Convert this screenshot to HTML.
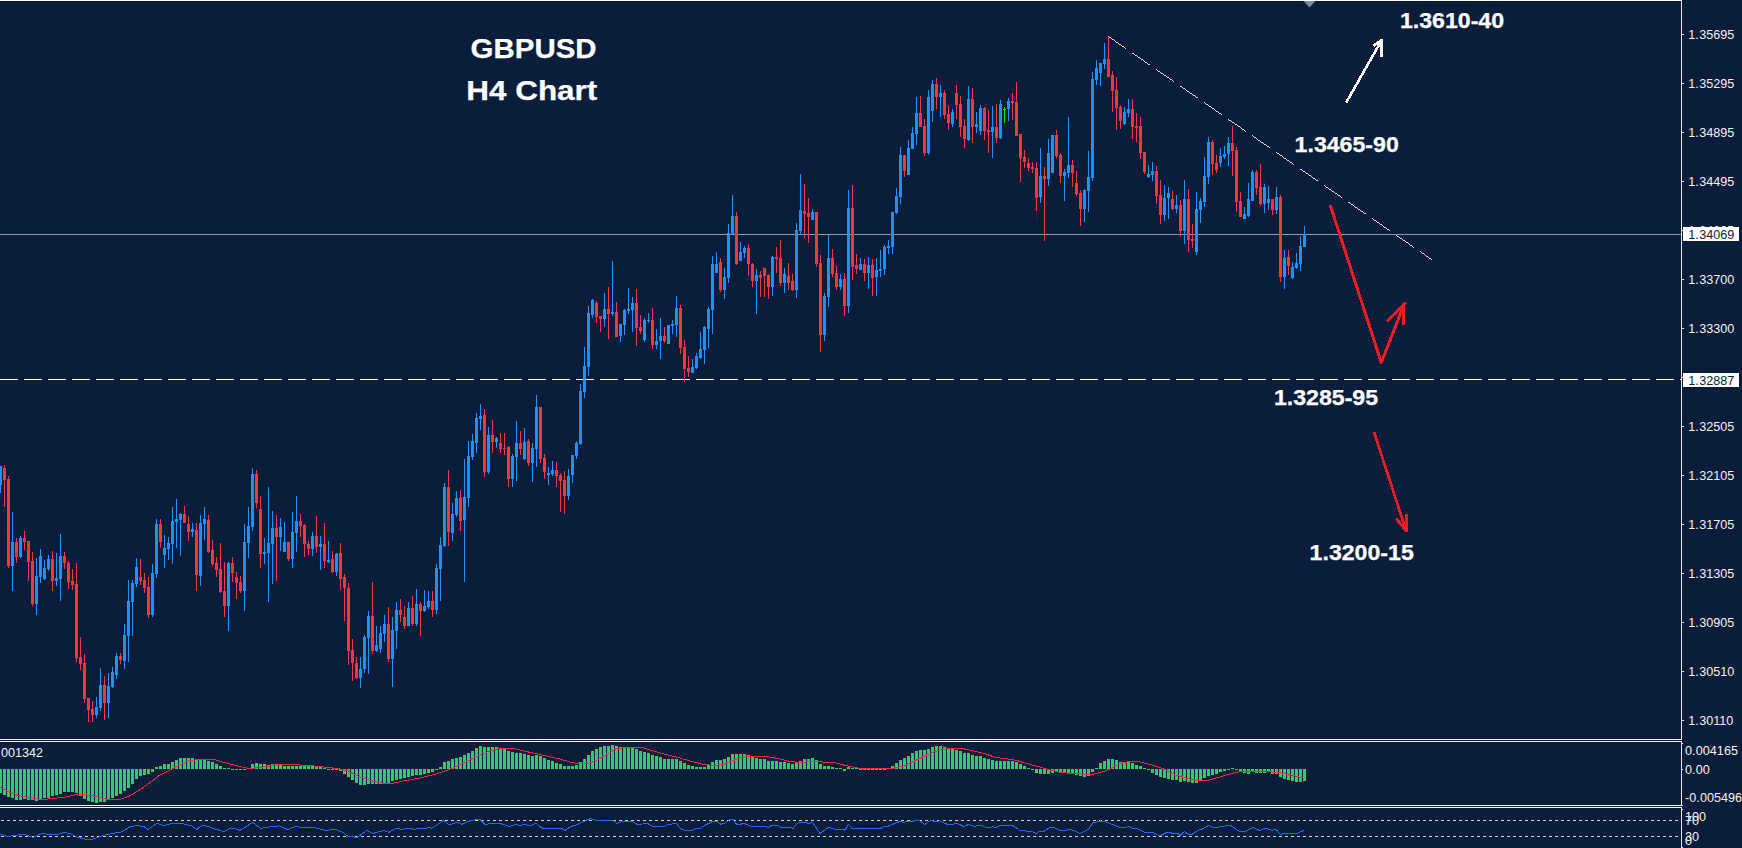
<!DOCTYPE html>
<html><head><meta charset="utf-8"><title>GBPUSD H4 Chart</title>
<style>
html,body{margin:0;padding:0;background:#0a1e3b;}
body{width:1742px;height:848px;overflow:hidden;}
svg{display:block;position:absolute;left:0;top:0;}
.ax{font-family:"Liberation Sans",Arial,sans-serif;font-size:12.6px;fill:#f2f2f2;}
.axd{font-family:"Liberation Sans",Arial,sans-serif;font-size:12.6px;fill:#0a1e3b;}
.lab{font-family:"Liberation Sans",Arial,sans-serif;font-weight:bold;fill:#ffffff;stroke:#ffffff;stroke-width:0.25px;}
</style></head><body>
<svg width="1742" height="848" viewBox="0 0 1742 848">
<rect x="0" y="0" width="1742" height="848" fill="#0a1e3b"/>

<g shape-rendering="crispEdges">
<rect x="0" y="0" width="1682" height="1" fill="#ffffff"/>
<rect x="0" y="1" width="1681" height="1" fill="#041432"/>
<rect x="1681" y="0" width="1" height="740" fill="#e6e6e6"/><rect x="1681" y="741" width="1" height="65" fill="#e6e6e6"/><rect x="1681" y="807" width="1" height="41" fill="#e6e6e6"/>
<rect x="0" y="739" width="1682" height="1" fill="#f0f0f0"/>
<rect x="0" y="741" width="1682" height="1" fill="#f0f0f0"/>
<rect x="0" y="805" width="1682" height="1" fill="#f0f0f0"/>
<rect x="0" y="807" width="1682" height="1" fill="#f0f0f0"/>
<rect x="0" y="234" width="1681" height="1" fill="#8e9aab"/>
<path d="M0 379.5H1681" stroke="#ffffff" stroke-width="1" stroke-dasharray="18 6" fill="none"/>
<path d="M1 820.5H1681" stroke="#d0d0d0" stroke-width="1" stroke-dasharray="3 3" fill="none"/>
<path d="M1 836.5H1681" stroke="#d0d0d0" stroke-width="1" stroke-dasharray="3 3" fill="none"/>
<rect x="1682" y="34" width="2" height="1" fill="#e6e6e6"/>
<rect x="1682" y="83" width="2" height="1" fill="#e6e6e6"/>
<rect x="1682" y="132" width="2" height="1" fill="#e6e6e6"/>
<rect x="1682" y="181" width="2" height="1" fill="#e6e6e6"/>
<rect x="1682" y="230" width="2" height="1" fill="#e6e6e6"/>
<rect x="1682" y="279" width="2" height="1" fill="#e6e6e6"/>
<rect x="1682" y="328" width="2" height="1" fill="#e6e6e6"/>
<rect x="1682" y="377" width="2" height="1" fill="#e6e6e6"/>
<rect x="1682" y="426" width="2" height="1" fill="#e6e6e6"/>
<rect x="1682" y="475" width="2" height="1" fill="#e6e6e6"/>
<rect x="1682" y="524" width="2" height="1" fill="#e6e6e6"/>
<rect x="1682" y="573" width="2" height="1" fill="#e6e6e6"/>
<rect x="1682" y="622" width="2" height="1" fill="#e6e6e6"/>
<rect x="1682" y="671" width="2" height="1" fill="#e6e6e6"/>
<rect x="1682" y="720" width="2" height="1" fill="#e6e6e6"/>
<rect x="1682" y="743" width="1" height="1" fill="#e6e6e6"/>
<rect x="1682" y="769" width="1" height="1" fill="#e6e6e6"/>
<rect x="1682" y="805" width="1" height="1" fill="#e6e6e6"/>
<rect x="1682" y="809" width="1" height="1" fill="#e6e6e6"/>
<rect x="1682" y="847" width="1" height="1" fill="#e6e6e6"/>
</g>
<g shape-rendering="crispEdges">
<path fill="#2090fb" d="M0 466h1v27h-1zM-1 466h3v19h-3zM12 512h1v79h-1zM11 542h3v24h-3zM20 536h1v22h-1zM19 538h3v19h-3zM36 558h1v57h-1zM35 576h3v28h-3zM40 549h1v34h-1zM39 556h3v21h-3zM44 560h1v20h-1zM43 568h3v11h-3zM48 555h1v16h-1zM47 559h3v10h-3zM56 553h1v33h-1zM55 578h3v3h-3zM60 534h1v67h-1zM59 556h3v23h-3zM96 697h1v21h-1zM95 707h3v8h-3zM100 668h1v43h-1zM99 685h3v23h-3zM108 673h1v45h-1zM107 686h3v17h-3zM112 667h1v21h-1zM111 672h3v15h-3zM116 653h1v26h-1zM115 656h3v19h-3zM124 624h1v45h-1zM123 635h3v26h-3zM128 580h1v82h-1zM127 601h3v35h-3zM132 580h1v56h-1zM131 583h3v19h-3zM136 558h1v29h-1zM135 567h3v17h-3zM152 564h1v53h-1zM151 573h3v42h-3zM156 519h1v59h-1zM155 524h3v50h-3zM164 535h1v33h-1zM163 548h3v7h-3zM168 537h1v23h-1zM167 543h3v6h-3zM172 507h1v57h-1zM171 521h3v23h-3zM176 499h1v49h-1zM175 519h3v3h-3zM180 513h1v43h-1zM179 514h3v6h-3zM192 523h1v14h-1zM191 529h3v3h-3zM200 515h1v71h-1zM199 523h3v53h-3zM204 507h1v33h-1zM203 519h3v5h-3zM228 562h1v69h-1zM227 563h3v43h-3zM244 524h1v87h-1zM243 542h3v49h-3zM248 507h1v51h-1zM247 526h3v17h-3zM252 468h1v63h-1zM251 474h3v53h-3zM264 538h1v26h-1zM263 552h3v2h-3zM268 487h1v115h-1zM267 543h3v10h-3zM272 511h1v73h-1zM271 528h3v16h-3zM280 518h1v33h-1zM279 527h3v10h-3zM284 522h1v30h-1zM283 542h3v10h-3zM292 512h1v56h-1zM291 532h3v27h-3zM296 496h1v56h-1zM295 521h3v12h-3zM312 532h1v24h-1zM311 536h3v13h-3zM320 536h1v34h-1zM319 544h3v3h-3zM328 541h1v22h-1zM327 560h3v2h-3zM336 553h1v23h-1zM335 554h3v18h-3zM360 657h1v31h-1zM359 669h3v9h-3zM364 635h1v38h-1zM363 637h3v32h-3zM368 611h1v63h-1zM367 616h3v22h-3zM376 626h1v26h-1zM375 645h3v6h-3zM380 626h1v27h-1zM379 633h3v16h-3zM384 615h1v27h-1zM383 624h3v10h-3zM392 617h1v70h-1zM391 630h3v29h-3zM396 602h1v47h-1zM395 610h3v21h-3zM408 602h1v24h-1zM407 608h3v18h-3zM416 589h1v37h-1zM415 604h3v20h-3zM424 590h1v22h-1zM423 606h3v5h-3zM428 591h1v18h-1zM427 601h3v6h-3zM436 564h1v50h-1zM435 568h3v42h-3zM440 537h1v64h-1zM439 545h3v24h-3zM444 483h1v64h-1zM443 487h3v59h-3zM452 503h1v38h-1zM451 514h3v19h-3zM456 491h1v26h-1zM455 498h3v17h-3zM464 459h1v123h-1zM463 497h3v23h-3zM468 441h1v66h-1zM467 456h3v42h-3zM472 434h1v26h-1zM471 441h3v16h-3zM476 413h1v40h-1zM475 418h3v25h-3zM480 404h1v26h-1zM479 416h3v3h-3zM488 427h1v47h-1zM487 435h3v37h-3zM496 437h1v11h-1zM495 438h3v4h-3zM512 454h1v33h-1zM511 456h3v23h-3zM516 421h1v60h-1zM515 443h3v14h-3zM524 428h1v32h-1zM523 442h3v17h-3zM532 443h1v39h-1zM531 448h3v15h-3zM536 395h1v72h-1zM535 407h3v42h-3zM548 467h1v18h-1zM547 473h3v2h-3zM552 461h1v15h-1zM551 470h3v4h-3zM568 469h1v31h-1zM567 476h3v20h-3zM572 455h1v28h-1zM571 455h3v20h-3zM576 441h1v18h-1zM575 443h3v13h-3zM580 384h1v61h-1zM579 391h3v53h-3zM584 347h1v51h-1zM583 366h3v26h-3zM588 306h1v70h-1zM587 313h3v54h-3zM592 299h1v19h-1zM591 300h3v15h-3zM604 293h1v34h-1zM603 309h3v10h-3zM612 261h1v55h-1zM611 312h3v2h-3zM620 324h1v18h-1zM619 324h3v12h-3zM624 309h1v26h-1zM623 310h3v15h-3zM628 288h1v26h-1zM627 309h3v2h-3zM632 297h1v35h-1zM631 303h3v7h-3zM644 318h1v24h-1zM643 320h3v20h-3zM648 313h1v10h-1zM647 320h3v1h-3zM656 329h1v20h-1zM655 341h3v4h-3zM660 318h1v41h-1zM659 336h3v5h-3zM668 325h1v19h-1zM667 325h3v19h-3zM672 320h1v14h-1zM671 324h3v2h-3zM676 296h1v41h-1zM675 308h3v17h-3zM692 359h1v14h-1zM691 367h3v6h-3zM696 353h1v16h-1zM695 356h3v12h-3zM700 332h1v27h-1zM699 349h3v9h-3zM704 326h1v38h-1zM703 327h3v23h-3zM708 307h1v41h-1zM707 309h3v20h-3zM712 256h1v78h-1zM711 264h3v46h-3zM716 252h1v21h-1zM715 264h3v9h-3zM724 268h1v31h-1zM723 277h3v13h-3zM728 224h1v59h-1zM727 233h3v45h-3zM732 195h1v39h-1zM731 216h3v18h-3zM740 242h1v19h-1zM739 252h3v9h-3zM744 246h1v12h-1zM743 248h3v5h-3zM756 269h1v45h-1zM755 275h3v6h-3zM772 256h1v40h-1zM771 257h3v30h-3zM784 268h1v25h-1zM783 274h3v9h-3zM796 223h1v75h-1zM795 230h3v60h-3zM800 174h1v61h-1zM799 210h3v21h-3zM812 209h1v11h-1zM811 212h3v8h-3zM824 293h1v48h-1zM823 296h3v39h-3zM828 235h1v72h-1zM827 258h3v39h-3zM840 274h1v16h-1zM839 279h3v8h-3zM848 190h1v123h-1zM847 208h3v98h-3zM860 258h1v12h-1zM859 264h3v6h-3zM868 257h1v32h-1zM867 265h3v8h-3zM876 258h1v38h-1zM875 270h3v7h-3zM880 250h1v27h-1zM879 269h3v2h-3zM884 245h1v30h-1zM883 247h3v22h-3zM888 240h1v14h-1zM887 246h3v2h-3zM892 212h1v42h-1zM891 212h3v35h-3zM896 188h1v26h-1zM895 196h3v17h-3zM900 147h1v57h-1zM899 155h3v42h-3zM908 140h1v35h-1zM907 148h3v27h-3zM912 127h1v22h-1zM911 133h3v16h-3zM916 97h1v48h-1zM915 113h3v21h-3zM928 90h1v65h-1zM927 97h3v56h-3zM932 80h1v42h-1zM931 84h3v27h-3zM940 85h1v32h-1zM939 93h3v4h-3zM952 109h1v18h-1zM951 112h3v12h-3zM968 86h1v55h-1zM967 99h3v41h-3zM976 112h1v21h-1zM975 124h3v3h-3zM980 105h1v30h-1zM979 108h3v23h-3zM992 106h1v52h-1zM991 127h3v5h-3zM1000 100h1v39h-1zM999 104h3v34h-3zM1008 98h1v23h-1zM1007 101h3v8h-3zM1040 148h1v55h-1zM1039 176h3v21h-3zM1048 139h1v47h-1zM1047 153h3v26h-3zM1052 135h1v38h-1zM1051 135h3v38h-3zM1064 169h1v32h-1zM1063 172h3v4h-3zM1068 117h1v61h-1zM1067 165h3v8h-3zM1084 189h1v33h-1zM1083 190h3v19h-3zM1088 151h1v61h-1zM1087 177h3v14h-3zM1092 72h1v109h-1zM1091 79h3v99h-3zM1096 60h1v25h-1zM1095 68h3v12h-3zM1100 63h1v23h-1zM1099 63h3v10h-3zM1104 43h1v26h-1zM1103 59h3v5h-3zM1124 107h1v18h-1zM1123 112h3v12h-3zM1128 99h1v18h-1zM1127 109h3v4h-3zM1148 165h1v13h-1zM1147 174h3v3h-3zM1152 162h1v19h-1zM1151 171h3v4h-3zM1164 185h1v36h-1zM1163 198h3v17h-3zM1168 187h1v32h-1zM1167 193h3v5h-3zM1176 195h1v18h-1zM1175 205h3v4h-3zM1184 180h1v64h-1zM1183 199h3v32h-3zM1196 192h1v63h-1zM1195 209h3v43h-3zM1200 198h1v25h-1zM1199 201h3v9h-3zM1204 157h1v50h-1zM1203 176h3v26h-3zM1208 137h1v47h-1zM1207 142h3v35h-3zM1220 148h1v19h-1zM1219 156h3v7h-3zM1224 146h1v13h-1zM1223 154h3v3h-3zM1228 137h1v29h-1zM1227 143h3v11h-3zM1244 207h1v12h-1zM1243 214h3v5h-3zM1248 183h1v34h-1zM1247 199h3v17h-3zM1252 170h1v31h-1zM1251 172h3v29h-3zM1264 184h1v29h-1zM1263 187h3v17h-3zM1268 186h1v24h-1zM1267 199h3v4h-3zM1276 187h1v27h-1zM1275 197h3v13h-3zM1284 250h1v39h-1zM1283 258h3v19h-3zM1292 262h1v17h-1zM1291 267h3v11h-3zM1296 253h1v16h-1zM1295 263h3v5h-3zM1300 236h1v35h-1zM1299 246h3v18h-3zM1304 226h1v21h-1zM1303 234h3v13h-3z"/>
<path fill="#f23645" d="M4 465h1v42h-1zM3 468h3v12h-3zM8 476h1v92h-1zM7 479h3v87h-3zM16 538h1v25h-1zM15 542h3v15h-3zM24 531h1v19h-1zM23 538h3v4h-3zM28 541h1v40h-1zM27 541h3v21h-3zM32 552h1v54h-1zM31 561h3v43h-3zM52 551h1v40h-1zM51 559h3v22h-3zM64 552h1v17h-1zM63 556h3v7h-3zM68 561h1v28h-1zM67 563h3v19h-3zM72 569h1v21h-1zM71 581h3v4h-3zM76 563h1v99h-1zM75 584h3v74h-3zM80 637h1v33h-1zM79 657h3v7h-3zM84 654h1v49h-1zM83 663h3v36h-3zM88 698h1v24h-1zM87 698h3v12h-3zM92 701h1v21h-1zM91 709h3v6h-3zM104 676h1v44h-1zM103 685h3v18h-3zM120 653h1v11h-1zM119 656h3v4h-3zM140 559h1v26h-1zM139 577h3v4h-3zM144 573h1v20h-1zM143 580h3v8h-3zM148 577h1v41h-1zM147 587h3v28h-3zM160 519h1v29h-1zM159 524h3v18h-3zM184 506h1v17h-1zM183 514h3v9h-3zM188 516h1v25h-1zM187 524h3v8h-3zM196 523h1v68h-1zM195 530h3v45h-3zM208 515h1v38h-1zM207 520h3v32h-3zM212 540h1v26h-1zM211 550h3v14h-3zM216 557h1v20h-1zM215 563h3v7h-3zM220 543h1v50h-1zM219 569h3v23h-3zM224 562h1v55h-1zM223 591h3v15h-3zM232 557h1v25h-1zM231 563h3v10h-3zM236 572h1v27h-1zM235 577h3v6h-3zM240 576h1v17h-1zM239 582h3v9h-3zM256 470h1v38h-1zM255 474h3v29h-3zM260 496h1v72h-1zM259 509h3v45h-3zM276 515h1v66h-1zM275 528h3v9h-3zM288 542h1v19h-1zM287 542h3v17h-3zM300 514h1v23h-1zM299 521h3v5h-3zM304 524h1v33h-1zM303 525h3v19h-3zM308 541h1v14h-1zM307 544h3v5h-3zM316 516h1v37h-1zM315 536h3v11h-3zM324 523h1v45h-1zM323 544h3v17h-3zM332 551h1v22h-1zM331 559h3v13h-3zM340 543h1v47h-1zM339 553h3v26h-3zM344 574h1v47h-1zM343 577h3v11h-3zM348 583h1v82h-1zM347 588h3v63h-3zM352 639h1v42h-1zM351 650h3v13h-3zM356 657h1v22h-1zM355 663h3v15h-3zM372 582h1v72h-1zM371 616h3v35h-3zM388 607h1v55h-1zM387 624h3v35h-3zM400 599h1v23h-1zM399 610h3v5h-3zM404 606h1v23h-1zM403 617h3v9h-3zM412 596h1v30h-1zM411 608h3v16h-3zM420 602h1v34h-1zM419 604h3v7h-3zM432 591h1v26h-1zM431 601h3v9h-3zM448 470h1v76h-1zM447 487h3v45h-3zM460 490h1v41h-1zM459 498h3v23h-3zM484 409h1v68h-1zM483 415h3v57h-3zM492 420h1v33h-1zM491 435h3v7h-3zM500 433h1v20h-1zM499 443h3v6h-3zM504 433h1v22h-1zM503 448h3v1h-3zM508 446h1v41h-1zM507 447h3v32h-3zM520 431h1v24h-1zM519 443h3v6h-3zM528 439h1v27h-1zM527 441h3v22h-3zM540 407h1v56h-1zM539 407h3v52h-3zM544 454h1v25h-1zM543 458h3v14h-3zM556 462h1v25h-1zM555 470h3v6h-3zM560 473h1v39h-1zM559 475h3v6h-3zM564 471h1v43h-1zM563 480h3v16h-3zM596 301h1v22h-1zM595 303h3v14h-3zM600 316h1v16h-1zM599 316h3v3h-3zM608 287h1v52h-1zM607 309h3v5h-3zM616 302h1v35h-1zM615 312h3v25h-3zM636 289h1v57h-1zM635 303h3v25h-3zM640 315h1v19h-1zM639 327h3v4h-3zM652 308h1v41h-1zM651 320h3v25h-3zM664 327h1v16h-1zM663 336h3v5h-3zM680 305h1v49h-1zM679 308h3v40h-3zM684 340h1v42h-1zM683 347h3v22h-3zM688 356h1v21h-1zM687 368h3v4h-3zM720 258h1v34h-1zM719 262h3v28h-3zM736 212h1v53h-1zM735 216h3v48h-3zM748 244h1v32h-1zM747 248h3v16h-3zM752 263h1v24h-1zM751 264h3v17h-3zM760 271h1v26h-1zM759 275h3v3h-3zM764 268h1v29h-1zM763 268h3v8h-3zM768 274h1v25h-1zM767 275h3v12h-3zM776 247h1v26h-1zM775 257h3v2h-3zM780 240h1v46h-1zM779 258h3v25h-3zM788 263h1v27h-1zM787 276h3v7h-3zM792 274h1v17h-1zM791 281h3v9h-3zM804 184h1v54h-1zM803 211h3v3h-3zM808 198h1v45h-1zM807 213h3v4h-3zM816 212h1v55h-1zM815 212h3v52h-3zM820 255h1v97h-1zM819 263h3v72h-3zM832 249h1v28h-1zM831 258h3v16h-3zM836 266h1v24h-1zM835 273h3v14h-3zM844 273h1v43h-1zM843 279h3v27h-3zM852 185h1v95h-1zM851 208h3v59h-3zM856 254h1v20h-1zM855 265h3v4h-3zM864 259h1v22h-1zM863 264h3v9h-3zM872 259h1v37h-1zM871 265h3v13h-3zM904 155h1v22h-1zM903 155h3v16h-3zM920 96h1v31h-1zM919 113h3v14h-3zM924 119h1v37h-1zM923 126h3v27h-3zM936 78h1v31h-1zM935 84h3v13h-3zM944 90h1v29h-1zM943 93h3v22h-3zM948 106h1v24h-1zM947 114h3v9h-3zM956 85h1v34h-1zM955 93h3v12h-3zM960 96h1v41h-1zM959 104h3v23h-3zM964 119h1v29h-1zM963 126h3v13h-3zM972 88h1v55h-1zM971 99h3v28h-3zM984 107h1v33h-1zM983 108h3v23h-3zM988 110h1v43h-1zM987 130h3v2h-3zM996 104h1v39h-1zM995 127h3v11h-3zM1012 93h1v27h-1zM1011 101h3v2h-3zM1016 82h1v54h-1zM1015 102h3v34h-3zM1020 134h1v48h-1zM1019 134h3v24h-3zM1024 150h1v18h-1zM1023 157h3v5h-3zM1028 158h1v13h-1zM1027 163h3v5h-3zM1032 162h1v11h-1zM1031 167h3v2h-3zM1036 162h1v49h-1zM1035 168h3v30h-3zM1044 167h1v74h-1zM1043 176h3v3h-3zM1056 130h1v28h-1zM1055 135h3v21h-3zM1060 153h1v30h-1zM1059 155h3v21h-3zM1072 160h1v27h-1zM1071 165h3v8h-3zM1076 171h1v25h-1zM1075 183h3v11h-3zM1080 190h1v36h-1zM1079 193h3v16h-3zM1108 37h1v40h-1zM1107 59h3v18h-3zM1112 71h1v41h-1zM1111 75h3v16h-3zM1116 77h1v53h-1zM1115 90h3v18h-3zM1120 105h1v24h-1zM1119 107h3v14h-3zM1132 99h1v40h-1zM1131 109h3v18h-3zM1136 113h1v29h-1zM1135 126h3v2h-3zM1140 117h1v42h-1zM1139 126h3v27h-3zM1144 152h1v22h-1zM1143 152h3v20h-3zM1156 166h1v38h-1zM1155 171h3v25h-3zM1160 180h1v44h-1zM1159 195h3v20h-3zM1172 191h1v19h-1zM1171 199h3v10h-3zM1180 200h1v37h-1zM1179 205h3v26h-3zM1188 189h1v63h-1zM1187 199h3v41h-3zM1192 224h1v24h-1zM1191 239h3v2h-3zM1212 140h1v35h-1zM1211 142h3v22h-3zM1216 155h1v18h-1zM1215 163h3v7h-3zM1232 126h1v50h-1zM1231 143h3v8h-3zM1236 147h1v65h-1zM1235 150h3v52h-3zM1240 192h1v25h-1zM1239 201h3v16h-3zM1256 170h1v25h-1zM1255 172h3v16h-3zM1260 164h1v42h-1zM1259 187h3v17h-3zM1272 199h1v16h-1zM1271 199h3v11h-3zM1280 195h1v87h-1zM1279 197h3v80h-3zM1288 250h1v25h-1zM1287 257h3v9h-3z"/>
<path fill="#00e400" d="M1004 107h1v16h-1zM1003 109h3v1h-3z"/>
<rect x="1003" y="109" width="3" height="1" fill="#00e400"/>
<path fill="#2ecc71" d="M-1 769h3v24h-3zM3 769h3v26h-3zM7 769h3v28h-3zM11 769h3v29h-3zM15 769h3v31h-3zM19 769h3v31h-3zM23 769h3v30h-3zM27 769h3v31h-3zM31 769h3v31h-3zM35 769h3v32h-3zM39 769h3v30h-3zM43 769h3v29h-3zM47 769h3v29h-3zM51 769h3v27h-3zM55 769h3v26h-3zM59 769h3v25h-3zM63 769h3v23h-3zM67 769h3v23h-3zM71 769h3v23h-3zM75 769h3v24h-3zM79 769h3v27h-3zM83 769h3v30h-3zM87 769h3v32h-3zM91 769h3v33h-3zM95 769h3v34h-3zM99 769h3v33h-3zM103 769h3v33h-3zM107 769h3v31h-3zM111 769h3v29h-3zM115 769h3v27h-3zM119 769h3v25h-3zM123 769h3v22h-3zM127 769h3v19h-3zM131 769h3v15h-3zM135 769h3v10h-3zM139 769h3v7h-3zM143 769h3v6h-3zM147 769h3v5h-3zM151 769h3v3h-3zM155 767h3v2h-3zM159 766h3v3h-3zM163 764h3v5h-3zM167 764h3v5h-3zM171 762h3v7h-3zM175 760h3v9h-3zM179 758h3v11h-3zM183 758h3v11h-3zM187 758h3v11h-3zM191 758h3v11h-3zM195 760h3v9h-3zM199 760h3v9h-3zM203 760h3v9h-3zM207 761h3v8h-3zM211 762h3v7h-3zM215 764h3v5h-3zM219 766h3v3h-3zM223 768h3v1h-3zM227 768h3v1h-3zM231 769h3v1h-3zM235 769h3v1h-3zM239 769h3v1h-3zM243 769h3v1h-3zM247 768h3v1h-3zM251 764h3v5h-3zM255 763h3v6h-3zM259 764h3v5h-3zM263 764h3v5h-3zM267 765h3v4h-3zM271 764h3v5h-3zM275 764h3v5h-3zM279 765h3v4h-3zM283 766h3v3h-3zM287 766h3v3h-3zM291 766h3v3h-3zM295 766h3v3h-3zM299 766h3v3h-3zM303 766h3v3h-3zM307 766h3v3h-3zM311 766h3v3h-3zM315 767h3v2h-3zM319 767h3v2h-3zM323 768h3v1h-3zM327 769h3v1h-3zM331 769h3v1h-3zM335 769h3v1h-3zM339 769h3v2h-3zM343 769h3v5h-3zM347 769h3v8h-3zM351 769h3v11h-3zM355 769h3v14h-3zM359 769h3v16h-3zM363 769h3v16h-3zM367 769h3v15h-3zM371 769h3v15h-3zM375 769h3v15h-3zM379 769h3v15h-3zM383 769h3v14h-3zM387 769h3v14h-3zM391 769h3v12h-3zM395 769h3v11h-3zM399 769h3v10h-3zM403 769h3v9h-3zM407 769h3v8h-3zM411 769h3v7h-3zM415 769h3v6h-3zM419 769h3v6h-3zM423 769h3v5h-3zM427 769h3v4h-3zM431 769h3v3h-3zM435 769h3v1h-3zM439 767h3v2h-3zM443 762h3v7h-3zM447 761h3v8h-3zM451 759h3v10h-3zM455 758h3v11h-3zM459 757h3v12h-3zM463 755h3v14h-3zM467 753h3v16h-3zM471 751h3v18h-3zM475 748h3v21h-3zM479 746h3v23h-3zM483 747h3v22h-3zM487 747h3v22h-3zM491 747h3v22h-3zM495 747h3v22h-3zM499 748h3v21h-3zM503 749h3v20h-3zM507 751h3v18h-3zM511 752h3v17h-3zM515 753h3v16h-3zM519 753h3v16h-3zM523 754h3v15h-3zM527 755h3v14h-3zM531 756h3v13h-3zM535 755h3v14h-3zM539 756h3v13h-3zM543 758h3v11h-3zM547 760h3v9h-3zM551 761h3v8h-3zM555 763h3v6h-3zM559 764h3v5h-3zM563 766h3v3h-3zM567 766h3v3h-3zM571 766h3v3h-3zM575 765h3v4h-3zM579 762h3v7h-3zM583 759h3v10h-3zM587 755h3v14h-3zM591 751h3v18h-3zM595 749h3v20h-3zM599 747h3v22h-3zM603 746h3v23h-3zM607 746h3v23h-3zM611 745h3v24h-3zM615 746h3v23h-3zM619 747h3v22h-3zM623 748h3v21h-3zM627 748h3v21h-3zM631 748h3v21h-3zM635 749h3v20h-3zM639 751h3v18h-3zM643 752h3v17h-3zM647 753h3v16h-3zM651 755h3v14h-3zM655 756h3v13h-3zM659 757h3v12h-3zM663 759h3v10h-3zM667 759h3v10h-3zM671 759h3v10h-3zM675 759h3v10h-3zM679 761h3v8h-3zM683 763h3v6h-3zM687 765h3v4h-3zM691 766h3v3h-3zM695 767h3v2h-3zM699 767h3v2h-3zM703 767h3v2h-3zM707 765h3v4h-3zM711 762h3v7h-3zM715 760h3v9h-3zM719 760h3v9h-3zM723 759h3v10h-3zM727 757h3v12h-3zM731 754h3v15h-3zM735 754h3v15h-3zM739 754h3v15h-3zM743 754h3v15h-3zM747 755h3v14h-3zM751 756h3v13h-3zM755 758h3v11h-3zM759 759h3v10h-3zM763 759h3v10h-3zM767 761h3v8h-3zM771 761h3v8h-3zM775 761h3v8h-3zM779 762h3v7h-3zM783 762h3v7h-3zM787 763h3v6h-3zM791 764h3v5h-3zM795 762h3v7h-3zM799 761h3v8h-3zM803 759h3v10h-3zM807 759h3v10h-3zM811 758h3v11h-3zM815 760h3v9h-3zM819 764h3v5h-3zM823 766h3v3h-3zM827 766h3v3h-3zM831 767h3v2h-3zM835 768h3v1h-3zM839 768h3v1h-3zM843 769h3v2h-3zM847 767h3v2h-3zM851 768h3v1h-3zM855 768h3v1h-3zM859 769h3v1h-3zM863 769h3v1h-3zM867 769h3v1h-3zM871 769h3v1h-3zM875 769h3v1h-3zM879 769h3v1h-3zM883 769h3v1h-3zM887 768h3v1h-3zM891 766h3v3h-3zM895 763h3v6h-3zM899 760h3v9h-3zM903 758h3v11h-3zM907 756h3v13h-3zM911 753h3v16h-3zM915 751h3v18h-3zM919 750h3v19h-3zM923 750h3v19h-3zM927 749h3v20h-3zM931 747h3v22h-3zM935 746h3v23h-3zM939 746h3v23h-3zM943 747h3v22h-3zM947 749h3v20h-3zM951 749h3v20h-3zM955 750h3v19h-3zM959 751h3v18h-3zM963 753h3v16h-3zM967 753h3v16h-3zM971 755h3v14h-3zM975 756h3v13h-3zM979 756h3v13h-3zM983 758h3v11h-3zM987 759h3v10h-3zM991 760h3v9h-3zM995 761h3v8h-3zM999 761h3v8h-3zM1003 761h3v8h-3zM1007 761h3v8h-3zM1011 761h3v8h-3zM1015 762h3v7h-3zM1019 764h3v5h-3zM1023 766h3v3h-3zM1027 768h3v1h-3zM1031 769h3v1h-3zM1035 769h3v4h-3zM1039 769h3v5h-3zM1043 769h3v5h-3zM1047 769h3v5h-3zM1051 769h3v4h-3zM1055 769h3v3h-3zM1059 769h3v4h-3zM1063 769h3v4h-3zM1067 769h3v4h-3zM1071 769h3v5h-3zM1075 769h3v6h-3zM1079 769h3v7h-3zM1083 769h3v8h-3zM1087 769h3v7h-3zM1091 769h3v3h-3zM1095 768h3v1h-3zM1099 763h3v6h-3zM1103 761h3v8h-3zM1107 759h3v10h-3zM1111 759h3v10h-3zM1115 760h3v9h-3zM1119 762h3v7h-3zM1123 762h3v7h-3zM1127 762h3v7h-3zM1131 763h3v6h-3zM1135 765h3v4h-3zM1139 766h3v3h-3zM1143 768h3v1h-3zM1147 769h3v1h-3zM1151 769h3v4h-3zM1155 769h3v6h-3zM1159 769h3v8h-3zM1163 769h3v9h-3zM1167 769h3v10h-3zM1171 769h3v11h-3zM1175 769h3v11h-3zM1179 769h3v13h-3zM1183 769h3v12h-3zM1187 769h3v13h-3zM1191 769h3v14h-3zM1195 769h3v14h-3zM1199 769h3v11h-3zM1203 769h3v9h-3zM1207 769h3v7h-3zM1211 769h3v6h-3zM1215 769h3v5h-3zM1219 769h3v3h-3zM1223 769h3v2h-3zM1227 769h3v1h-3zM1231 768h3v1h-3zM1235 769h3v1h-3zM1239 769h3v2h-3zM1243 769h3v4h-3zM1247 769h3v5h-3zM1251 769h3v3h-3zM1255 769h3v4h-3zM1259 769h3v4h-3zM1263 769h3v4h-3zM1267 769h3v3h-3zM1271 769h3v5h-3zM1275 769h3v5h-3zM1279 769h3v8h-3zM1283 769h3v10h-3zM1287 769h3v11h-3zM1291 769h3v12h-3zM1295 769h3v13h-3zM1299 769h3v13h-3zM1303 769h3v12h-3z"/>
</g>
<path d="M0.0 786.9L8.0 791.5L20.0 795.9L40.0 799.5L49.9 798.9L65.9 796.9L75.9 794.5L87.9 794.9L99.9 797.5L107.9 799.5L119.9 799.5L129.8 795.9L139.8 789.9L149.8 782.9L159.8 775.0L169.8 770.0L179.8 765.0L187.8 761.0L199.8 759.4L213.7 759.4L223.7 762.4L235.7 765.4L247.7 768.4L259.7 767.6L279.7 764.4L289.7 764.4L309.6 765.6L329.6 767.6L339.6 769.0L348.0 771.0L360.0 777.0L372.0 780.9L383.9 783.5L391.9 783.5L403.9 780.9L419.9 778.0L433.9 774.6L447.9 770.0L459.9 765.0L469.8 760.0L479.8 755.0L489.8 751.0L499.8 748.4L513.8 748.4L523.8 751.0L539.8 754.4L559.7 759.0L571.7 762.4L579.7 764.0L587.7 763.6L597.7 759.6L607.7 754.0L615.7 749.0L623.7 747.4L641.6 747.4L651.6 750.4L663.6 754.0L675.6 757.0L680.0 758.0L692.0 761.6L704.0 764.4L714.0 765.6L723.9 764.0L731.9 761.0L739.9 758.0L747.9 756.4L765.9 756.4L779.9 759.0L789.9 761.6L799.9 762.4L811.8 761.6L833.8 762.4L845.8 765.6L859.8 768.4L879.8 768.6L891.7 768.4L903.7 766.0L915.7 760.4L927.7 754.4L939.7 750.0L947.7 748.4L961.7 748.4L973.6 751.0L985.6 754.0L995.6 757.4L1007.6 759.0L1017.6 760.6L1020.0 761.6L1030.0 764.4L1040.0 767.0L1050.0 770.0L1060.0 772.0L1071.9 773.6L1083.9 774.0L1091.9 774.6L1103.9 771.6L1113.9 767.0L1123.9 762.4L1129.9 761.6L1139.9 762.0L1151.8 765.0L1163.8 769.0L1175.8 775.0L1185.8 778.0L1195.8 780.3L1207.8 780.3L1219.8 777.0L1229.7 774.0L1239.7 771.6L1265.7 771.6L1278.9 772.5L1282.9 773.5L1288.9 774.5L1293.1 775.5L1297.1 776.5L1301.1 777.5L1304.1 778.5" fill="none" stroke="#ee2a3c" stroke-width="1" stroke-linejoin="round" shape-rendering="crispEdges"/>
<path d="M0.0 833.9L8.0 836.9L14.0 835.3L24.0 834.5L33.0 837.3L41.9 833.5L47.9 834.3L55.9 834.9L63.9 832.3L69.9 833.5L77.9 837.3L83.9 838.9L91.9 839.5L103.9 835.3L115.9 832.9L121.9 831.9L129.8 826.9L135.8 825.5L143.8 826.5L148.2 829.5L156.8 823.5L163.8 825.5L171.8 823.5L181.8 823.5L191.8 825.9L196.8 829.5L201.8 825.5L207.8 826.3L214.7 828.9L223.7 831.5L229.7 828.5L235.7 828.9L239.7 830.5L252.7 822.5L260.7 828.3L269.7 826.9L279.7 825.9L287.7 829.5L295.6 826.3L303.6 827.9L313.6 827.5L325.6 830.3L335.6 829.5L340.0 831.5L343.0 832.3L348.0 836.5L357.0 837.3L362.0 833.9L367.0 830.5L373.0 833.5L378.0 831.9L383.9 830.5L388.9 832.3L395.9 828.5L401.9 829.3L408.9 828.3L413.9 829.3L419.9 828.5L425.9 828.3L428.9 827.3L431.9 828.3L443.9 820.3L448.9 824.9L453.9 823.3L457.9 822.5L461.9 824.3L470.8 820.5L479.8 819.3L484.8 824.5L491.8 823.5L499.8 823.5L509.8 826.5L515.8 824.5L519.8 825.5L524.8 824.3L529.8 825.9L535.8 823.3L541.8 827.9L545.8 828.5L561.7 828.5L564.7 830.5L570.7 826.5L576.7 824.9L581.7 822.3L590.7 818.5L595.7 820.3L612.7 820.3L616.7 823.5L621.7 821.9L631.7 821.5L637.6 824.5L647.6 823.5L652.6 826.3L664.6 826.3L667.6 824.5L676.6 823.5L680.0 828.3L685.0 830.5L692.0 830.5L696.0 828.5L700.0 828.5L705.0 825.3L713.0 821.3L717.0 821.3L721.0 824.5L724.9 822.9L729.9 819.5L732.9 819.5L736.9 824.5L739.9 824.5L743.9 823.3L750.9 826.3L765.9 826.3L767.9 827.5L771.9 825.3L777.9 825.3L780.9 827.3L789.9 827.3L792.9 828.5L797.9 822.9L805.8 822.5L808.8 823.5L812.8 822.5L819.8 833.5L827.8 827.9L830.8 827.9L835.8 829.5L843.8 829.5L844.8 830.5L848.4 824.5L852.2 828.5L880.8 828.5L883.8 826.5L887.8 826.3L899.7 821.5L903.7 822.3L907.7 821.3L912.7 821.3L916.7 819.9L920.7 821.3L924.7 824.5L930.7 820.3L936.7 821.9L939.7 820.9L947.7 824.5L951.7 824.5L956.7 823.3L963.7 826.5L968.7 824.5L973.6 826.3L981.6 825.3L985.6 827.5L993.6 826.9L996.6 827.5L999.6 825.5L1012.6 825.5L1018.6 829.5L1020.0 830.5L1032.0 831.5L1036.0 833.5L1039.0 831.5L1044.0 831.3L1050.0 827.5L1054.0 827.5L1060.0 830.5L1065.9 830.3L1068.9 829.3L1073.9 830.5L1079.9 833.5L1088.9 828.9L1092.9 822.5L1097.9 821.9L1099.9 820.9L1105.9 821.9L1119.9 827.5L1125.9 827.5L1128.9 826.5L1132.9 828.5L1137.9 828.9L1144.9 832.5L1152.8 832.5L1159.8 835.9L1166.8 832.3L1170.8 832.3L1171.8 833.5L1177.8 833.5L1179.8 835.5L1184.4 831.5L1188.8 834.5L1191.8 834.5L1197.8 830.5L1202.8 828.9L1208.8 825.3L1212.8 827.5L1217.8 827.5L1219.8 826.5L1225.8 825.9L1229.7 825.3L1232.7 826.5L1237.7 830.5L1240.7 831.5L1245.7 831.3L1252.7 827.5L1259.7 830.5L1263.7 828.5L1267.7 828.9L1271.7 830.3L1275.7 829.3L1280.7 834.5L1283.7 833.5L1296.7 833.5L1303.7 830.5" fill="none" stroke="#2068f0" stroke-width="1" stroke-linejoin="round" shape-rendering="crispEdges"/>
<path d="M1108 36.15L1432 259.85" stroke="#ffffff" stroke-width="0.83" stroke-dasharray="21.87 7.29" fill="none" shape-rendering="crispEdges"/>
<path d="M1303.5 1H1315.5L1309.5 7.5Z" fill="#7c8ca0"/>
<g fill="none" stroke="#ffffff" stroke-width="2.6" stroke-linecap="butt" stroke-linejoin="miter" shape-rendering="crispEdges">
<path d="M1346.3 102.4L1380.6 42"/><path d="M1373.2 45.8L1382 39.9" stroke-width="2.8"/><path d="M1381.6 39V57" stroke-width="3"/>
</g>
<g fill="none" stroke="#f01c24" stroke-width="3" stroke-linecap="butt" stroke-linejoin="round" shape-rendering="crispEdges">
<path d="M1330.2 205L1381.3 362.6L1403.2 306.5"/><path d="M1387.2 321.3L1405.9 302.8"/><path d="M1403.9 302.5V325"/>
<path d="M1374 432L1405.6 529" stroke-width="2.7"/><path d="M1396 518.4L1406.4 531"/><path d="M1406.5 514L1406.5 532"/>
</g>
<text class="lab" x="470.6" y="57.7" font-size="27.3" textLength="126" lengthAdjust="spacingAndGlyphs">GBPUSD</text>
<text class="lab" x="466.3" y="100.2" font-size="27.3" textLength="131" lengthAdjust="spacingAndGlyphs">H4 Chart</text>
<text class="lab" x="1399.9" y="28.3" font-size="21.4" textLength="104.2" lengthAdjust="spacingAndGlyphs">1.3610-40</text>
<text class="lab" x="1294.6" y="152.4" font-size="21.4" textLength="104.2" lengthAdjust="spacingAndGlyphs">1.3465-90</text>
<text class="lab" x="1273.9" y="405" font-size="21.4" textLength="104.2" lengthAdjust="spacingAndGlyphs">1.3285-95</text>
<text class="lab" x="1309.6" y="559.8" font-size="21.4" textLength="104.2" lengthAdjust="spacingAndGlyphs">1.3200-15</text>
<text class="ax" x="1688.3" y="38.8">1.<tspan dx="0.35">35695</tspan></text>
<text class="ax" x="1688.3" y="87.8">1.<tspan dx="0.35">35295</tspan></text>
<text class="ax" x="1688.3" y="136.8">1.<tspan dx="0.35">34895</tspan></text>
<text class="ax" x="1688.3" y="185.8">1.<tspan dx="0.35">34495</tspan></text>
<text class="ax" x="1688.3" y="234.8">1.<tspan dx="0.35">34095</tspan></text>
<text class="ax" x="1688.3" y="283.8">1.<tspan dx="0.35">33700</tspan></text>
<text class="ax" x="1688.3" y="332.8">1.<tspan dx="0.35">33300</tspan></text>
<text class="ax" x="1688.3" y="381.8">1.<tspan dx="0.35">32900</tspan></text>
<text class="ax" x="1688.3" y="430.8">1.<tspan dx="0.35">32505</tspan></text>
<text class="ax" x="1688.3" y="479.8">1.<tspan dx="0.35">32105</tspan></text>
<text class="ax" x="1688.3" y="528.8">1.<tspan dx="0.35">31705</tspan></text>
<text class="ax" x="1688.3" y="577.8">1.<tspan dx="0.35">31305</tspan></text>
<text class="ax" x="1688.3" y="626.8">1.<tspan dx="0.35">30905</tspan></text>
<text class="ax" x="1688.3" y="675.8">1.<tspan dx="0.35">30510</tspan></text>
<text class="ax" x="1688.3" y="724.8">1.<tspan dx="0.35">30110</tspan></text>
<rect x="1683" y="227" width="56" height="14" fill="#ffffff"/><text class="axd" x="1688.3" y="238.8">1.<tspan dx="0.35">34069</tspan></text>
<rect x="1683" y="373" width="56" height="14" fill="#ffffff"/><text class="axd" x="1688.3" y="384.8">1.<tspan dx="0.35">32887</tspan></text>
<text class="ax" x="1685.0" y="755.2">0.<tspan dx="0.35">004165</tspan></text>
<text class="ax" x="1685.0" y="774">0.<tspan dx="0.35">00</tspan></text>
<text class="ax" x="1685.0" y="802.0">-0.<tspan dx="0.35">005496</tspan></text>
<text class="ax" x="1685.0" y="820.6">100</text>
<text class="ax" x="1685.0" y="825.4">70</text>
<text class="ax" x="1685.0" y="840.8">30</text>
<text class="ax" x="1685.0" y="844.9">0</text>
<text class="ax" x="1" y="757.3">001342</text>
</svg></body></html>
